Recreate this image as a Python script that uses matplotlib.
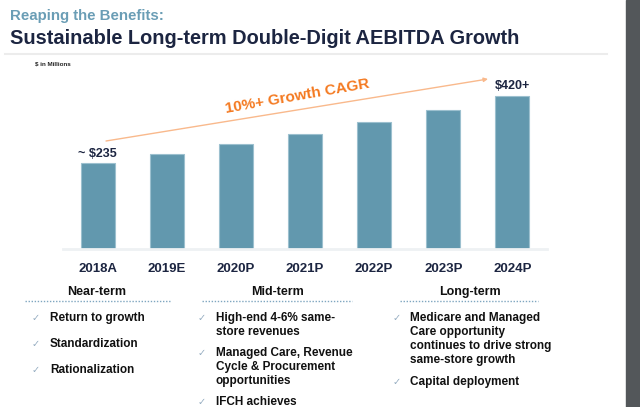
import matplotlib
matplotlib.use("Agg")
import matplotlib.pyplot as plt
from matplotlib.patches import Rectangle

# data
years = ["2018A", "2019E", "2020P", "2021P", "2022P", "2023P", "2024P"]
aebitda = [235, 260, 287, 315, 348, 381, 420]
bar_labels = {0: "~ $235", 6: "$420+"}

near_term = [["Return to growth"], ["Standardization"], ["Rationalization"]]
mid_term = [["High-end 4-6% same-", "store revenues"],
            ["Managed Care, Revenue", "Cycle & Procurement", "opportunities"],
            ["IFCH achieves"]]
long_term = [["Medicare and Managed", "Care opportunity", "continues to drive strong",
              "same-store growth"],
             ["Capital deployment"]]

W, H = 640, 407
navy = "#1c2541"
bar_color = "#6298ae"
orange = "#f47920"

plt.rcParams['font.family'] = ['Liberation Sans', 'DejaVu Sans']

fig = plt.figure(figsize=(W / 100, H / 100), dpi=100)
fig.patch.set_facecolor("white")


def px(x, y):
    return x / W, 1 - y / H


def put(x, y, s, **kw):
    fx, fy = px(x, y)
    return fig.text(fx, fy, s, **kw)


# right dark strip
fig.patches.append(Rectangle(px(626, 407), 14 / W, 1, transform=fig.transFigure,
                             color="#53575a", zorder=0))
# header rule
fig.add_artist(plt.Line2D([5 / W, 607 / W], [1 - 54 / H] * 2, color="#ececec", lw=1.5))

# titles
put(10, 16, "Reaping the Benefits:", fontsize=10.8, fontweight="bold", color="#6a9db5",
    va="center", ha="left")
put(10, 39, "Sustainable Long-term Double-Digit AEBITDA Growth", fontsize=14.4,
    fontweight="bold", color=navy, va="center", ha="left")
put(35, 64, "$ in Millions", fontsize=4.5, fontweight="bold", color="#222222",
    va="center", ha="left")

# bar chart
x0, y0 = px(63, 249)
x1, y1 = px(547, 70)
ax = fig.add_axes([x0, y0, x1 - x0, y1 - y0])
xs = range(len(years))
ax.bar(xs, aebitda, width=0.49, color=bar_color, edgecolor="#9cc0cf", linewidth=0.8, zorder=2)
ax.set_xlim(-0.5, len(years) - 0.5)
ax.set_ylim(0, 491)
ax.set_xticks(list(xs))
ax.set_xticklabels(years, fontsize=9.5, fontweight="bold", color=navy)
ax.tick_params(axis="x", length=0, pad=10)
ax.set_yticks([])
for side in ["left", "right", "top"]:
    ax.spines[side].set_visible(False)
ax.spines["bottom"].set_color("#eef1f3")
ax.spines["bottom"].set_linewidth(2)
ax.patch.set_alpha(0)

for i, lab in bar_labels.items():
    ax.annotate(lab, (i, aebitda[i]), xytext=(0, 2.5), textcoords="offset points",
                ha="center", va="bottom", fontsize=9, fontweight="bold", color=navy)

# growth arrow
ax.annotate("", xy=px(488, 79), xycoords="figure fraction",
            xytext=px(106, 141), textcoords="figure fraction",
            arrowprops=dict(arrowstyle="-|>", color="#f9b98c", lw=1.0,
                            mutation_scale=6, shrinkA=0, shrinkB=0))
put(297, 96, "10%+ Growth CAGR", fontsize=11, fontweight="bold", color=orange,
    rotation=10, ha="center", va="center", rotation_mode="anchor")

# outlook columns
columns = [
    ("Near-term", 97, 25, 170, 36, 50, 12, near_term),
    ("Mid-term", 278, 202, 352, 202, 216, 7, mid_term),
    ("Long-term", 470, 400, 538, 397, 410, 8, long_term),
]
line_h = 14
for head, hx, lx0, lx1, cx, tx, gap, items in columns:
    put(hx, 292, head, fontsize=9, fontweight="bold", color="#111111", ha="center", va="center")
    fig.add_artist(plt.Line2D([lx0 / W, lx1 / W], [1 - 301 / H] * 2, color="#7fa6c0",
                              lw=1.0, ls=(0, (1, 1.2))))
    y = 318
    for item in items:
        put(cx, y, "\u2713", fontsize=7, color="#93abc0", ha="center", va="center",
            family=["DejaVu Sans"])
        for line in item:
            put(tx, y, line, fontsize=8.5, fontweight="bold", color="#111111",
                ha="left", va="center")
            y += line_h
        y += gap

fig.savefig("out.png", dpi=100, facecolor="white")
